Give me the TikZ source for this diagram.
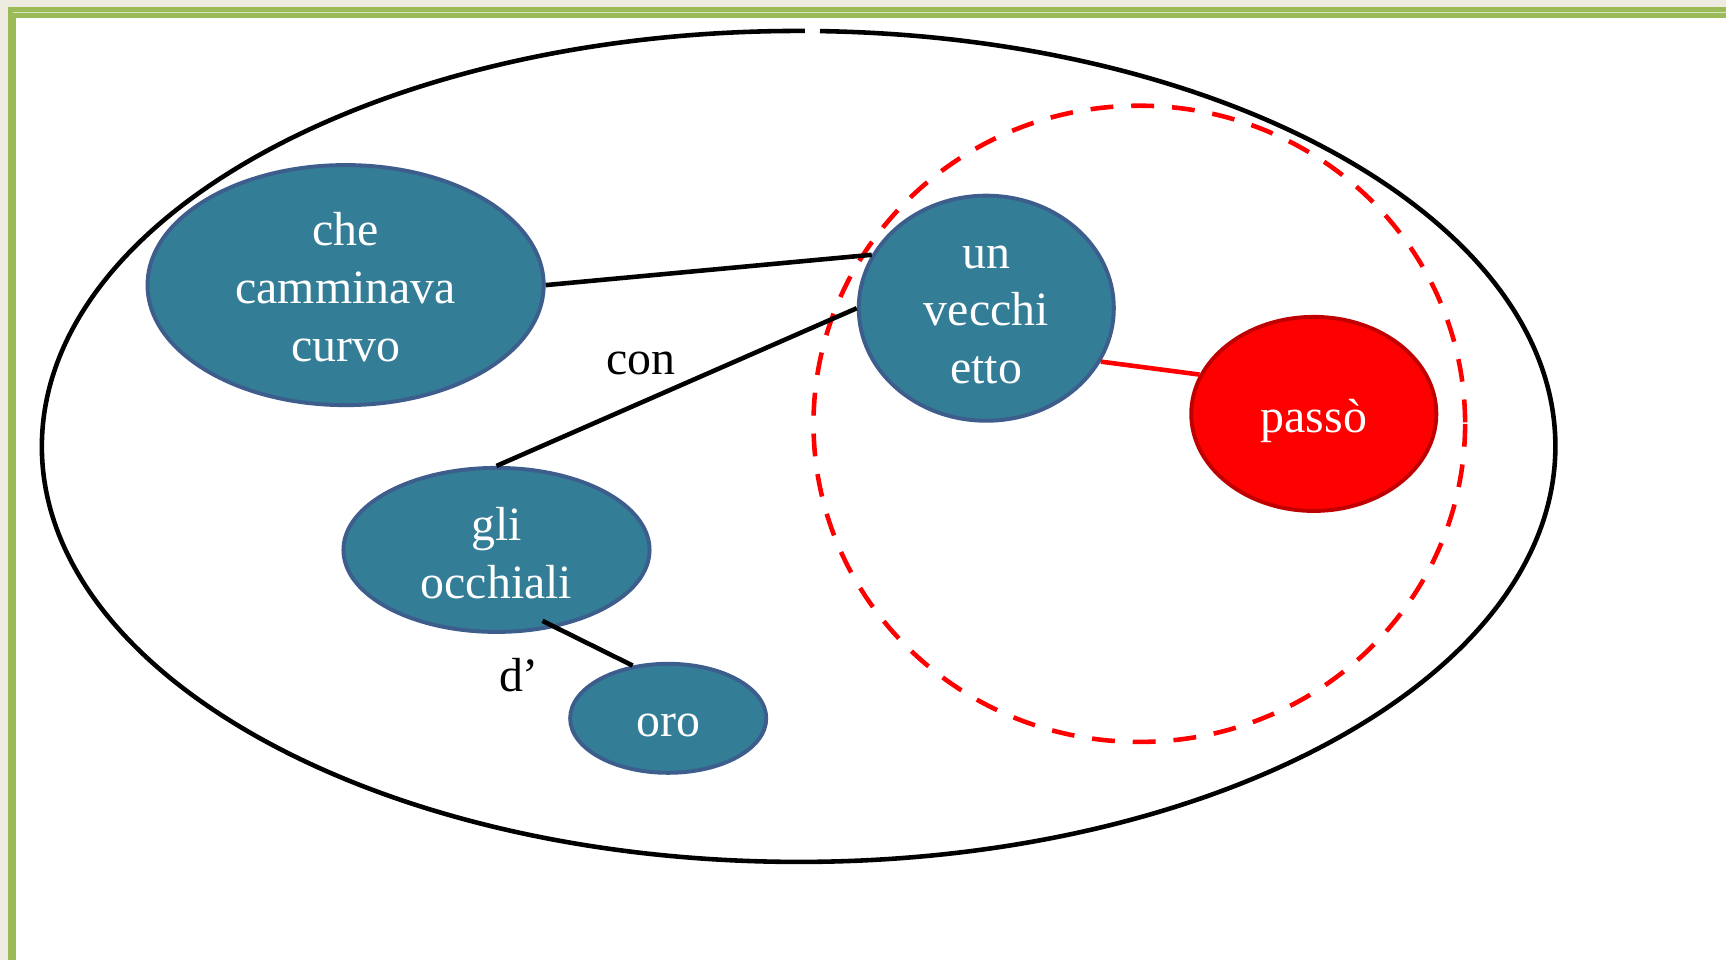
\documentclass[tikz,border=0pt]{standalone}
\usepackage{fontspec}
\setmainfont{Liberation Serif}
\usetikzlibrary{shapes.geometric}
\definecolor{pagebeige}{HTML}{EEECE1}
\definecolor{frameg}{HTML}{9BBB59}
\definecolor{framelight}{HTML}{D7E4BD}
\definecolor{tealc}{HTML}{337D97}
\definecolor{tealb}{HTML}{3D5D8C}
\definecolor{dred}{HTML}{C00000}
\pgfdeclarelayer{framelayer}
\pgfdeclarelayer{circlayer}
\pgfdeclarelayer{frontlayer}
\pgfsetlayers{framelayer,circlayer,main,frontlayer}
\newcommand\lowr[2]{\raisebox{-#1}[\height][\depth]{#2}}
\begin{document}
\begin{tikzpicture}[x=0.01cm,y=-0.01cm,
  blob/.style={ellipse, draw=tealb, line width=1.1pt, fill=tealc, text=white,
    inner sep=0pt, align=center, font=\fontsize{13.6}{16.4}\selectfont},
  redblob/.style={blob, draw=dred, fill=red},
  conn/.style={line width=1.3pt, black},
  lbl/.style={font=\fontsize{13.6}{16.4}\selectfont, inner sep=0pt, text=black}]
\useasboundingbox (0,0) rectangle (1726,960);
\begin{pgfonlayer}{framelayer}
  \fill[pagebeige] (0,0) rectangle (1726,960);
  \fill[frameg] (8,7) rectangle (1726,960);
  \fill[white] (16,18) rectangle (1726,960);
  \draw[framelight, line width=0.35pt] (13,12.5) -- (1726,12.5);
\end{pgfonlayer}

% nodes
\node[blob, minimum width=3.96cm, minimum height=2.40cm] (che) at (345.6,285.1)
  {\lowr{0.6pt}{che}\\\lowr{0.6pt}{camminava}\\\lowr{0.6pt}{curvo}};
\node[blob, minimum width=2.55cm, minimum height=2.25cm] (vec) at (986.3,308.2)
  {\lowr{1.9pt}{un}\\\lowr{1.9pt}{vecchi}\\\lowr{1.9pt}{etto}};
\node[redblob, minimum width=2.45cm, minimum height=1.94cm] (pas) at (1313.8,413.9)
  {\lowr{1.9pt}{passò}};
\node[blob, minimum width=3.06cm, minimum height=1.64cm] (gli) at (496.5,549.9)
  {\lowr{1pt}{gli}\\\lowr{1pt}{occhiali}};
\node[blob, minimum width=1.96cm, minimum height=1.09cm] (oro) at (668.2,718.3)
  {\lowr{1.9pt}{oro}};

\node[lbl] (con) at (640.7,363.3) {con};
\node[lbl] (dap) at (519,675) {d’};

% big ellipse with small gap at top
\coordinate (gapR) at (820,31.1);
\begin{pgfonlayer}{circlayer}
  \draw[line width=1.3pt] (gapR) arc[start angle=-88.38, end angle=270.48, x radius=756.8, y radius=415.5];
  \coordinate (cc) at (1139.3,423.8);
  \draw[red, line width=1.3pt, dash pattern=on 6.5pt off 5.1pt] (cc) ellipse [x radius=325.8, y radius=318.1];
\end{pgfonlayer}

\begin{pgfonlayer}{frontlayer}
  \draw[conn] (che.east) -- (vec.155);
  \draw[conn] (vec.west) -- (gli.north);
  \draw[conn] (gli.center) ++(46,71) -- (oro.124);
  \draw[red, line width=1.3pt] (vec.-25) -- (pas.161);
\end{pgfonlayer}
\end{tikzpicture}
\end{document}
